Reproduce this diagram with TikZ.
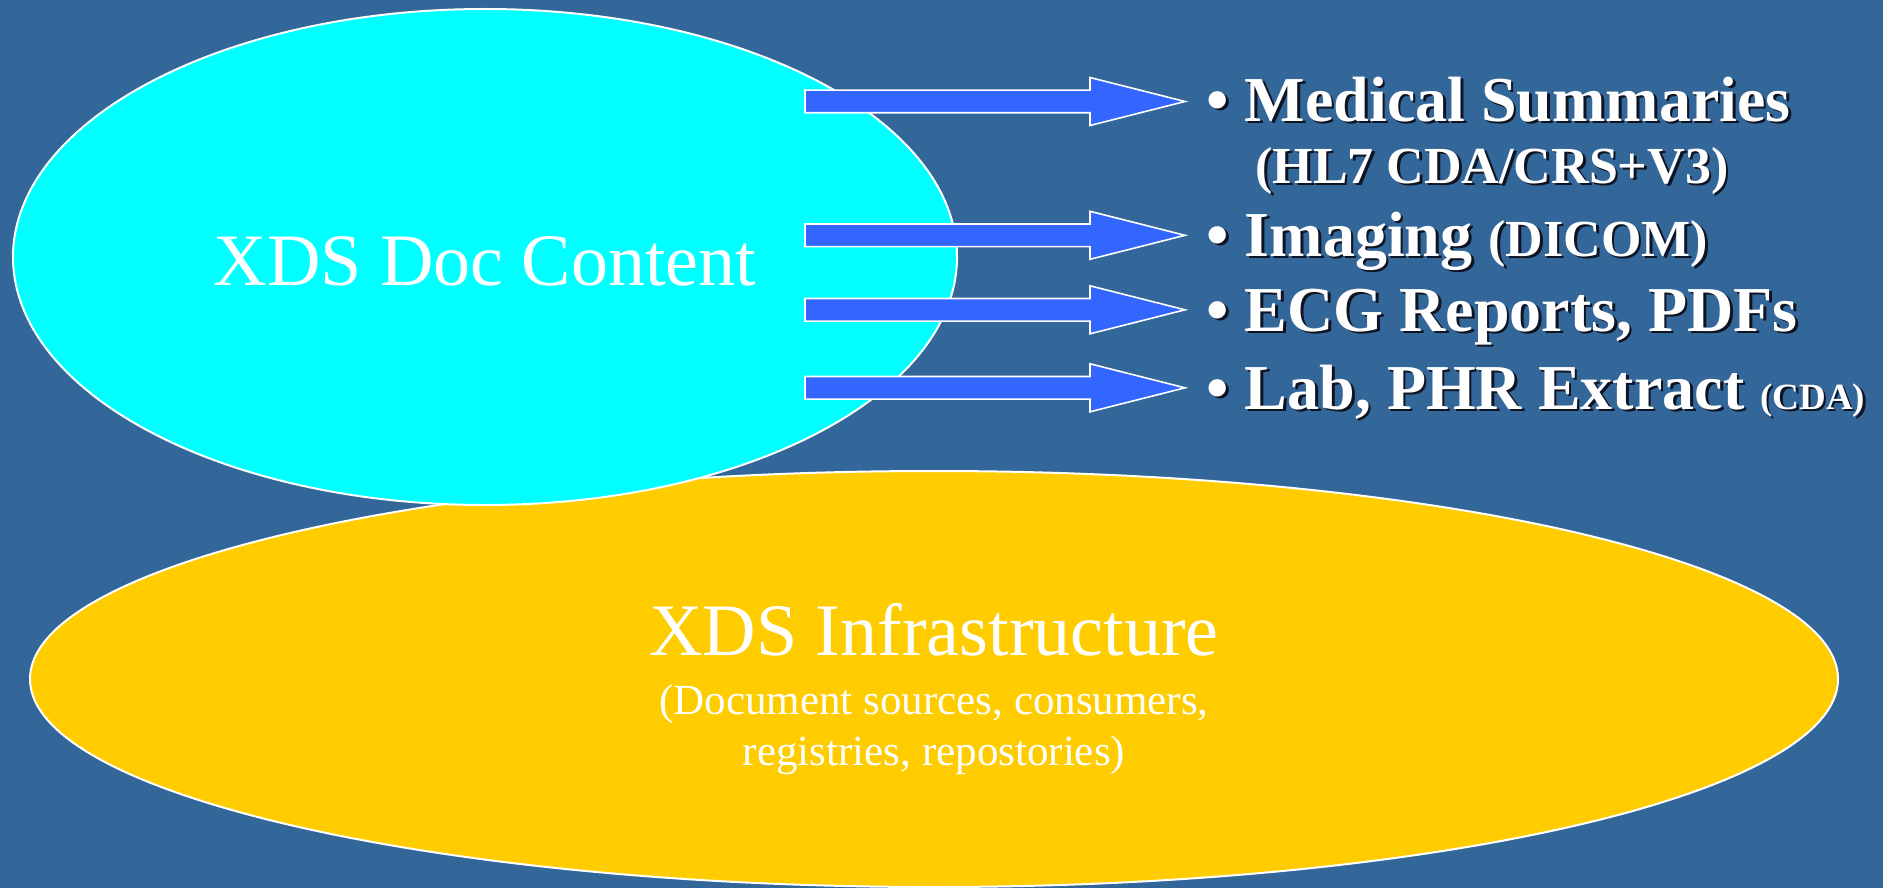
\documentclass[tikz,border=0pt]{standalone}
\usepackage{fontspec}
\setmainfont{Liberation Serif}
\usetikzlibrary{shapes.geometric}

\definecolor{slide}{RGB}{51,102,153}
\definecolor{contentfill}{RGB}{0,255,255}
\definecolor{infrafill}{RGB}{255,204,0}
\definecolor{arrowfill}{RGB}{51,102,255}
\definecolor{shadowc}{RGB}{15,20,35}

% white text with a dark drop shadow offset down and to the right
\newcommand\shadowed[1]{\makebox[0pt][l]{\hspace{1.3pt}\raisebox{-1.3pt}{\color{shadowc}#1}}#1}

\tikzset{
  blob/.style={ellipse, draw=white, line width=1pt, inner sep=0pt, outer sep=0pt},
  arrowshape/.style={fill=arrowfill, draw=white, line width=0.8pt, line join=miter},
  item/.style={anchor=base west, inner sep=0pt, text=white,
    font=\bfseries\fontsize{32}{38}\selectfont},
  title/.style={anchor=base, inner sep=0pt, text=white,
    font=\fontsize{37}{44}\selectfont},
  note/.style={anchor=base, inner sep=0pt, text=white,
    font=\fontsize{21.5}{26}\selectfont},
}

\begin{document}
\begin{tikzpicture}[x=0.5pt,y=-0.5pt]
  % slide background
  \fill[slide] (0,0) rectangle (1883,888);
  \useasboundingbox (0,0) rectangle (1883,888);

  % the two layers
  \node[blob, fill=infrafill, minimum width=904pt, minimum height=208pt] (infra) at (934,679) {};
  \node[blob, fill=contentfill, minimum width=472pt, minimum height=248pt] (content) at (485,257) {};

  % block arrows from the content layer to the document types
  \foreach \n/\y in {1/101.5, 2/235.3, 3/309.8, 4/387.8} {
    \coordinate (arr\n) at (805,\y);
    \draw[arrowshape] (arr\n) ++(0,-11.3) -- ++(285,0) -- ++(0,-12.7)
      -- ++(95,24) -- ++(-95,24) -- ++(0,-12.7) -- ++(-285,0) -- cycle;
  }

  % layer captions
  \node[title] (contentlbl) at (485,285) {XDS Doc Content};
  \node[title] (infralbl) at (934,655) {XDS Infrastructure};
  \node[note] (infra1) at (934,714) {(Document sources, consumers,};
  \node[note] (infra2) at (934,765) {registries, repostories)};

  % document types
  \node[item] (med) at (1206,121) {\shadowed{• Medical Summaries}};
  \node[item, font=\bfseries\fontsize{26}{31}\selectfont] (cda) at (1255,183) {\shadowed{(HL7 CDA/CRS+V3)}};
  \node[item] (img) at (1206,256) {\shadowed{• Imaging} \shadowed{{\fontsize{26}{31}\selectfont (DICOM)}}};
  \node[item] (ecg) at (1206,331) {\shadowed{• ECG Reports, PDFs}};
  \node[item] (lab) at (1206,409) {\shadowed{• Lab, PHR Extract} \shadowed{{\fontsize{18.5}{22}\selectfont (CDA)}}};
\end{tikzpicture}
\end{document}
